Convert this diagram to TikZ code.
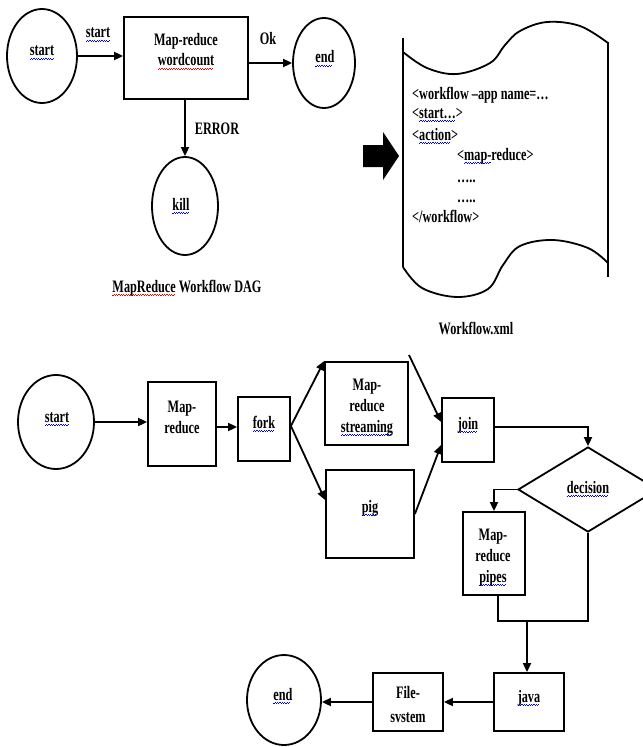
\documentclass[tikz,border=0pt]{standalone}
\usepackage{fontspec}
\setmainfont{Liberation Serif}[FakeStretch=0.7]
\usetikzlibrary{shapes.geometric,arrows.meta}
\newsavebox\sqbox
\newcommand\sqline[2]{\sbox\sqbox{#2}\rlap{\raisebox{-3.5bp}{\color{#1}\leaders\hbox to 2.4bp{\rule{1.2bp}{0.9bp}\raisebox{0.9bp}{\rule{1.2bp}{0.9bp}}}\hskip\wd\sqbox}}\usebox\sqbox}
\newcommand\bsq[1]{\sqline{blue}{#1}}
\newcommand\rsq[1]{\sqline{red}{#1}}
\begin{document}
\begin{tikzpicture}[x=1bp,y=-1bp,
  every node/.style={font=\bfseries\fontsize{17.5bp}{21bp}\selectfont},
  lw/.style={line width=1.8bp},
  box/.style={draw, lw, rectangle, inner sep=0pt},
  oval/.style={draw, lw, ellipse, inner sep=0pt},
  dia/.style={draw, lw, diamond, inner sep=0pt},
  txt/.style={anchor=base, inner sep=0pt},
  arr/.style={lw, -{Triangle[length=9bp,width=8bp]}}]
\useasboundingbox (0,0) rectangle (643,747);
\clip (0,0) rectangle (643,747);
% ---------- top: workflow DAG ----------
\node[oval, minimum width=70bp, minimum height=94bp] (s1) at (42,56) {};
\node[txt] (s1t) at (42,56) {\bsq{start}};
\node[box, minimum width=124bp, minimum height=82bp] (mr) at (186,58) {};
\node[txt] (mrt1) at (186,46) {Map-reduce};
\node[txt] (mrt2) at (186,66) {\rsq{wordcount}};
\node[oval, minimum width=62bp, minimum height=90bp] (e1) at (324,63) {};
\node[txt] (e1t) at (325,63) {\bsq{end}};
\node[oval, minimum width=66bp, minimum height=98bp] (kill) at (185,206) {};
\node[txt] (killt) at (181,210) {\bsq{kill}};
\node[txt] (lstart) at (98,38) {\bsq{start}};
\node[txt] (lok) at (268,45) {Ok};
\node[txt] (lerr) at (217,134) {ERROR};
\node[txt] (cap1) at (187,292) {\rsq{MapReduce} Workflow DAG};
\draw[arr] (s1.east) -- (s1.east -| mr.west);
\draw[arr] (mr.east |- e1.west) -- (e1.west);
\draw[arr] (mr.south -| kill.north) -- (kill.north);
% ---------- block arrow ----------
\fill (363,145) -- (383,145) -- (383,132) -- (399,156) -- (383,180) -- (383,167) -- (363,167) -- cycle;
% ---------- document ----------
\draw[lw] (403,38) -- (403,267);
\draw[lw] (608,42) -- (608,277);
\draw[lw] plot[smooth, tension=0.6] coordinates {(403,52) (427,68) (457,74) (490,63) (505,45) (520,31) (547,22) (580,26) (608,43)};
\draw[lw] plot[smooth, tension=0.6] coordinates {(403,267) (422,288) (457,297) (488,289) (503,265) (520,246) (553,240) (588,248) (608,263)};
\node[txt, anchor=base west] (x1) at (412,99) {<workflow –app name=…};
\node[txt, anchor=base west] (x2) at (412,118) {<\bsq{start…}>};
\node[txt, anchor=base west] (x3) at (412,140) {<\bsq{action}>};
\node[txt, anchor=base west] (x4) at (457,160) {<\bsq{map-}reduce>};
\node[txt, anchor=base west] (x5) at (457,182) {…..};
\node[txt, anchor=base west] (x6) at (457,202) {…..};
\node[txt, anchor=base west] (x7) at (412,222) {</workflow>};
\node[txt] (cap2) at (476,334) {Workflow.xml};
% ---------- bottom flow ----------
\node[oval, minimum width=76bp, minimum height=94bp] (s2) at (56,422) {};
\node[txt] (s2t) at (57,422) {\bsq{start}};
\node[box, minimum width=68bp, minimum height=84bp] (mr2) at (182,424) {};
\node[txt] (mr2a) at (182,412) {Map-};
\node[txt] (mr2b) at (182,433) {reduce};
\node[box, minimum width=52bp, minimum height=64bp] (fork) at (264,429) {};
\node[txt] (forkt) at (264,428) {\bsq{fork}};
\node[box, minimum width=83bp, minimum height=83bp] (st) at (366.5,403.5) {};
\node[txt] (sta) at (367,390) {Map-};
\node[txt] (stb) at (367,411) {reduce};
\node[txt] (stc) at (367,432) {\bsq{streaming}};
\node[box, minimum width=88bp, minimum height=88bp] (pig) at (370,514) {};
\node[txt] (pigt) at (370,512) {\bsq{pig}};
\node[box, minimum width=52bp, minimum height=64bp] (join) at (468,430) {};
\node[txt] (joint) at (468,429) {\bsq{join}};
\node[dia, minimum width=140bp, minimum height=85bp] (dec) at (588,489.5) {};
\node[txt] (dect) at (588,493) {\bsq{decision}};
\node[box, minimum width=62bp, minimum height=83bp] (pipes) at (494,553.5) {};
\node[txt] (pia) at (493,540) {Map-};
\node[txt] (pib) at (493,561) {reduce};
\node[txt] (pic) at (493,582) {\bsq{pipes}};
\node[box, minimum width=70bp, minimum height=58bp] (java) at (529,702) {};
\node[txt] (javat) at (529,702) {\bsq{java}};
\node[box, minimum width=70bp, minimum height=58bp] (fs) at (408,702) {};
\node[txt] (fsa) at (408,698) {File-};
\node[txt] (fsb) at (408,722) {svstem};
\node[oval, minimum width=74bp, minimum height=90bp] (e2) at (284,700) {};
\node[txt] (e2t) at (283,700) {\bsq{end}};
\coordinate (stx) at (409,355);
\coordinate (jn) at (527,621);
\draw[arr] (s2.east) -- (s2.east -| mr2.west);
\draw[arr] ([yshift=-3bp]mr2.east) -- ([yshift=-3bp]mr2.east -| fork.west);
\draw[arr] ([yshift=3bp]fork.east) -- (st.north west);
\draw[arr] ([yshift=3bp]fork.east) -- ([yshift=14bp]pig.west);
\draw[arr] (stx) -- ([yshift=8bp]join.west);
\draw[arr] (pig.east) -- ([yshift=-15bp]join.west);
\draw[arr] ([yshift=3bp]join.east) -| (dec.north);
\draw[arr] (dec.west) -| (pipes.north);
\draw[lw] ([xshift=4bp]pipes.south) |- (jn) -| (dec.south);
\draw[arr] (jn) -- (jn |- java.north);
\draw[arr] (java.west) -- (java.west -| fs.east);
\draw[arr] (fs.west) -- (fs.west -| e2.east);
\end{tikzpicture}
\end{document}
